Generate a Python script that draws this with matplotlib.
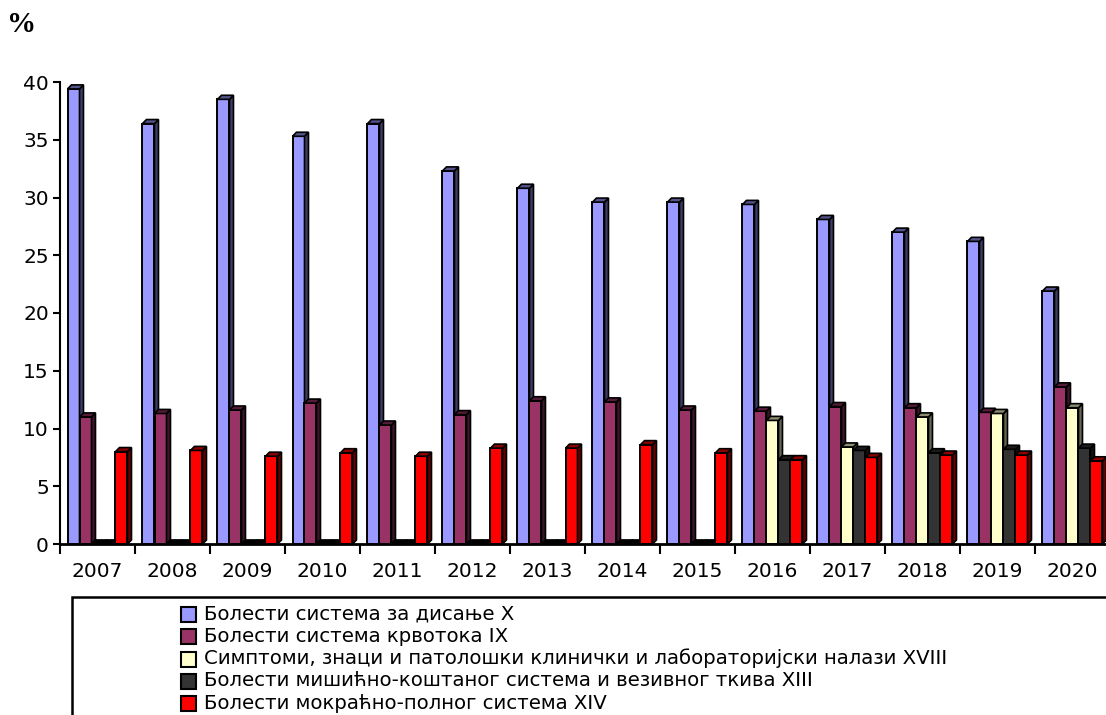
import numpy as np
import matplotlib
matplotlib.use("Agg")
import matplotlib.pyplot as plt
from matplotlib.patches import Polygon, Rectangle

# data (percent)
years = ["2007", "2008", "2009", "2010", "2011", "2012", "2013",
         "2014", "2015", "2016", "2017", "2018", "2019", "2020"]

respiratory = [39.4, 36.4, 38.5, 35.3, 36.4, 32.3, 30.8, 29.6, 29.6, 29.4, 28.1, 27.0, 26.2, 21.9]
circulatory = [11.0, 11.3, 11.6, 12.2, 10.3, 11.2, 12.4, 12.3, 11.6, 11.5, 11.9, 11.8, 11.4, 13.6]
symptoms = [0, 0, 0, 0, 0, 0, 0, 0, 0, 10.7, 8.4, 11.0, 11.3, 11.8]
musculo = [0, 0, 0, 0, 0, 0, 0, 0, 0, 7.3, 8.1, 7.9, 8.2, 8.3]
urogenital = [8.0, 8.1, 7.6, 7.9, 7.6, 8.3, 8.3, 8.6, 7.9, 7.3, 7.5, 7.7, 7.7, 7.2]

labels = [
    "Болести система за дисање X",
    "Болести система крвотока IX",
    "Симптоми, знаци и патолошки клинички и лабораторијски налази XVIII",
    "Болести мишићно-коштаног система и везивног ткива XIII",
    "Болести мокраћно-полног система XIV",
]
colors = ["#9999FF", "#993366", "#FFFFCC", "#333333", "#FF0000"]
series = [respiratory, circulatory, symptoms, musculo, urogenital]

W, H = 1106, 715
fig = plt.figure(figsize=(W / 100, H / 100), dpi=100)
ax = fig.add_axes([60 / W, (H - 544) / H, 1050 / W, 462 / H])

bw = 0.16          # bar width (category = 1)
dx, dy = 0.053, 0.35   # fake 3d depth in data units
x = np.arange(len(years))


def darker(c, f=0.4):
    r, g, b = matplotlib.colors.to_rgb(c)
    return (r * f, g * f, b * f)


for j, (vals, col) in enumerate(zip(series, colors)):
    xs = x + 0.5 + (j - 2) * bw
    ax.bar(xs, vals, bw, color=col, edgecolor="black", linewidth=1.4,
           zorder=3 + 2 * j, clip_on=False)
    for xi, v in zip(xs, vals):
        l, r = xi - bw / 2, xi + bw / 2
        fc_top = darker(col, 0.55) if v > 0 else "black"
        fc_side = darker(col) if v > 0 else "black"
        side = Polygon([(r, 0), (r + dx, dy), (r + dx, v + dy), (r, v)],
                       closed=True, facecolor=fc_side, edgecolor="black",
                       linewidth=1.2, zorder=3 + 2 * j + 1, clip_on=False)
        top = Polygon([(l, v), (l + dx, v + dy), (r + dx, v + dy), (r, v)],
                      closed=True, facecolor=fc_top, edgecolor="black",
                      linewidth=1.2, zorder=3 + 2 * j + 1, clip_on=False)
        ax.add_patch(side)
        ax.add_patch(top)

ax.set_xlim(0, len(years))
ax.set_ylim(0, 40)
ax.set_yticks(range(0, 41, 5))
ax.set_xticks(x, minor=False)
ax.set_xticks(x + 0.5, minor=True)
ax.set_xticklabels([])
ax.set_xticklabels(years, minor=True)
ax.tick_params(axis="x", which="major", direction="out", length=7, width=1.5)
ax.tick_params(axis="x", which="minor", length=0, pad=13, labelsize=14.5)
ax.tick_params(axis="y", direction="out", length=5, width=1.5, labelsize=14.5, pad=3)
for s in ["top", "right"]:
    ax.spines[s].set_visible(False)
ax.spines["left"].set_linewidth(1.5)
ax.spines["bottom"].set_linewidth(2)
ax.spines["bottom"].set_zorder(20)

# % label above the axis
fig.text(7 / W, 1 - 25 / H, "%", fontsize=21, fontweight="bold",
         family="Liberation Serif", va="center", ha="left")

# legend box, running off the bottom/right edge like the original
fig.add_artist(Rectangle((72 / W, -0.1), 1.0, (H - 597) / H + 0.1,
                         transform=fig.transFigure, fill=False,
                         edgecolor="black", linewidth=1.8))
for k, (lab, col) in enumerate(zip(labels, colors)):
    yc = 614 + k * 22.3
    fig.add_artist(Rectangle((181 / W, 1 - (yc + 8) / H), 15 / W, 15 / H,
                             transform=fig.transFigure, facecolor=col,
                             edgecolor="black", linewidth=1.5))
    fig.text(204 / W, 1 - yc / H, lab, fontsize=14.2, family="DejaVu Sans",
             va="center", ha="left")

fig.savefig("out.png", dpi=100)
